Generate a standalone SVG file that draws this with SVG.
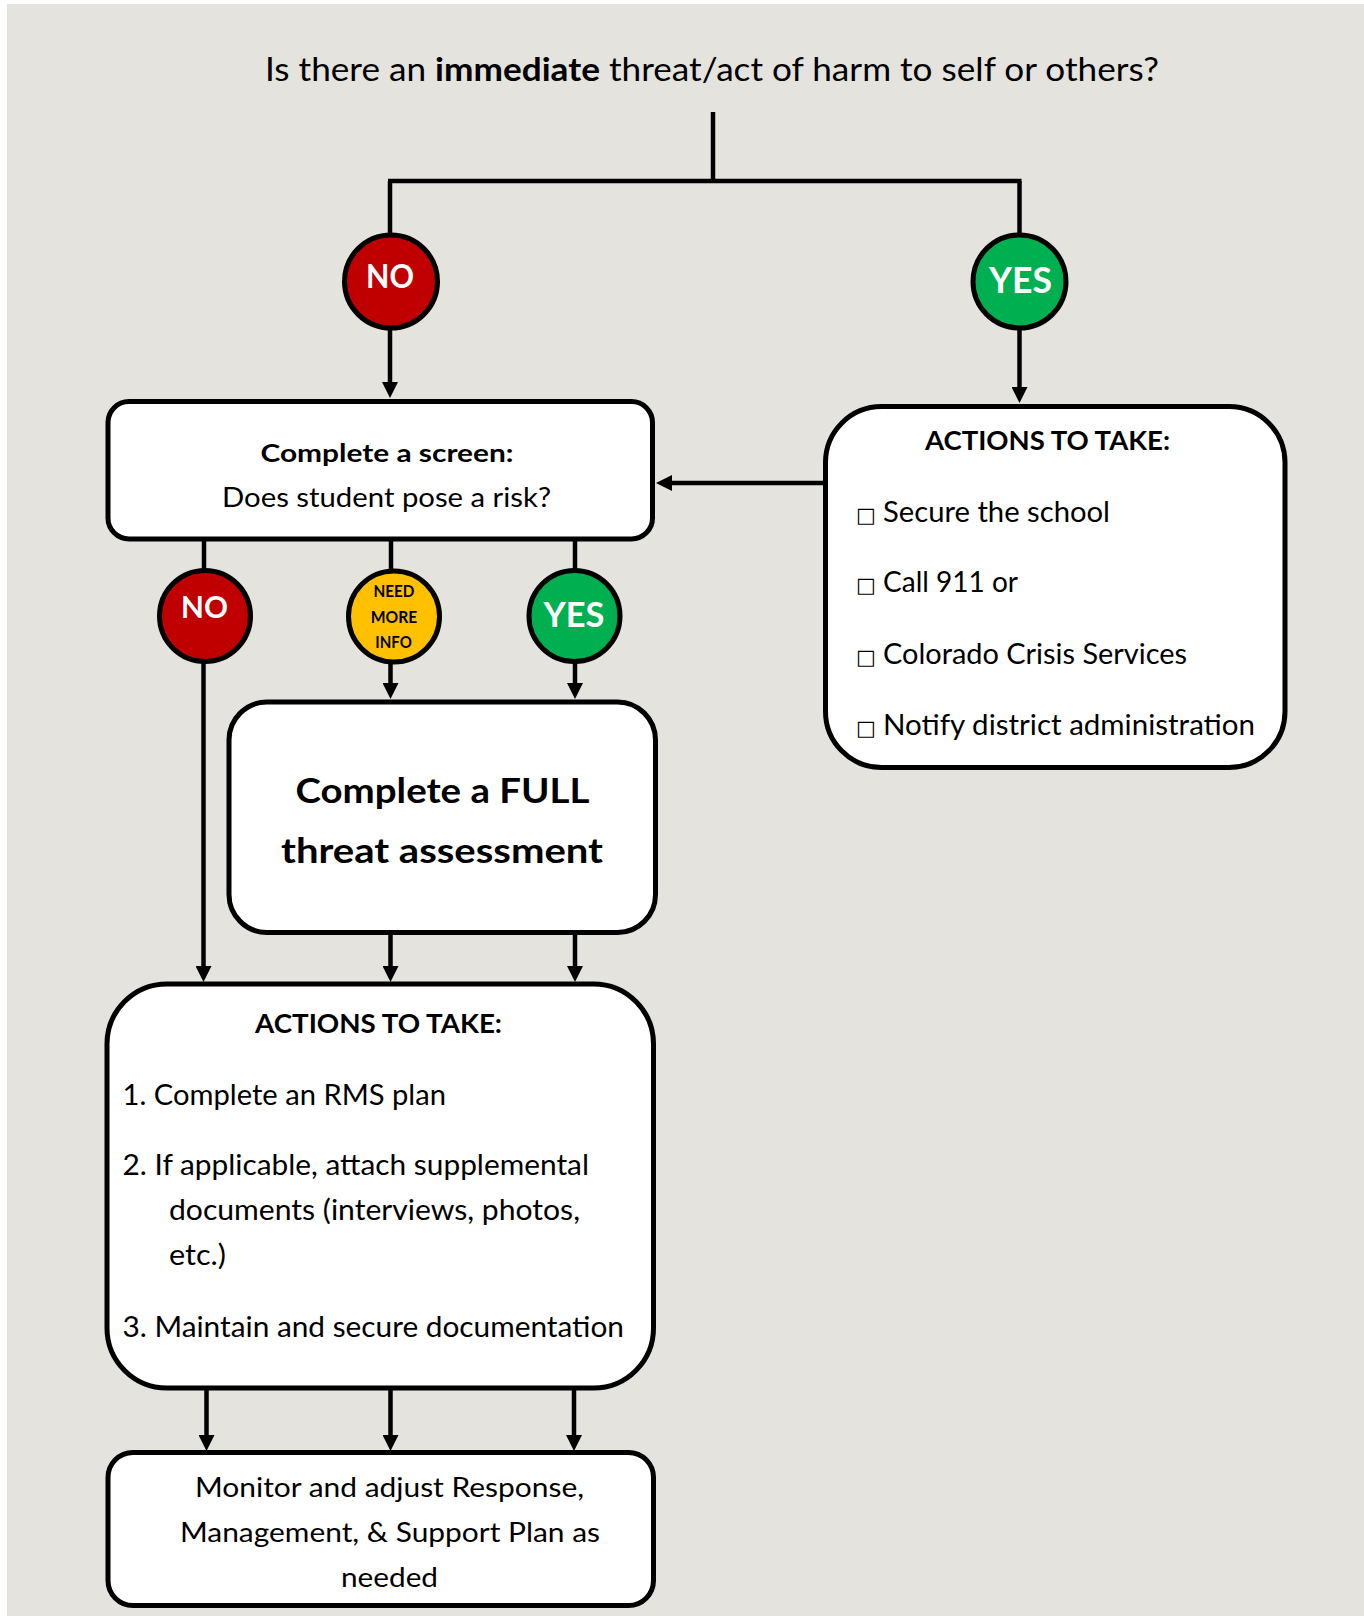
<svg xmlns="http://www.w3.org/2000/svg" width="1364" height="1616" viewBox="0 0 1364 1616">
<defs>
<style>
.t{font-family:Lato,"Open Sans","Liberation Sans",sans-serif;fill:#000}
.b{font-weight:bold}
.w{fill:#fff}
.box{fill:#fff;stroke:#000;stroke-width:5}
.dot{stroke:#000;stroke-width:5}
.ln{stroke:#000;stroke-width:4.5;fill:none}
.arr{stroke:#000;stroke-width:4.5;fill:none;marker-end:url(#ah)}
.sq{font-family:"DejaVu Sans",sans-serif;fill:#000}
</style>
<marker id="ah" markerUnits="userSpaceOnUse" markerWidth="16" markerHeight="16" refX="5" refY="8" orient="auto" viewBox="0 0 16 16">
<path d="M0,0 L16,8 L0,16 Z" fill="#000"/>
</marker>
</defs>
<rect x="0" y="0" width="1364" height="1616" fill="#fff"/>
<rect x="7" y="4" width="1357" height="1612" fill="#E4E3DE"/>

<g id="connectors">
<line class="ln" x1="713" y1="112" x2="713" y2="181"/>
<line class="ln" x1="388" y1="181" x2="1021.5" y2="181"/>
<line class="ln" x1="390" y1="181" x2="390" y2="236"/>
<line class="ln" x1="1019.5" y1="181" x2="1019.5" y2="236"/>
<line class="arr" x1="390" y1="328" x2="390" y2="387"/>
<line class="arr" x1="1019.5" y1="328" x2="1019.5" y2="392"/>
<line class="arr" x1="824" y1="483" x2="667" y2="483"/>
<line class="ln" x1="204" y1="540" x2="204" y2="572"/>
<line class="ln" x1="391" y1="540" x2="391" y2="572"/>
<line class="ln" x1="575" y1="540" x2="575" y2="572"/>
<line class="arr" x1="203.5" y1="660" x2="203.5" y2="971"/>
<line class="arr" x1="390.5" y1="660" x2="390.5" y2="688"/>
<line class="arr" x1="575" y1="660" x2="575" y2="688"/>
<line class="arr" x1="390.5" y1="933" x2="390.5" y2="971"/>
<line class="arr" x1="575" y1="933" x2="575" y2="971"/>
<line class="arr" x1="206.5" y1="1389" x2="206.5" y2="1440"/>
<line class="arr" x1="390.5" y1="1389" x2="390.5" y2="1440"/>
<line class="arr" x1="574" y1="1389" x2="574" y2="1440"/>
</g>

<g id="question">
<text class="t" x="712" y="81" font-size="32" text-anchor="middle" textLength="894" lengthAdjust="spacingAndGlyphs">Is there an <tspan class="b">immediate</tspan> threat/act of harm to self or others?</text>
</g>

<g id="no-top">
<circle class="dot" cx="391" cy="281.5" r="46.5" fill="#C00000"/>
<text class="t b w" x="390" y="288" font-size="32" text-anchor="middle" textLength="48" lengthAdjust="spacingAndGlyphs">NO</text>
</g>

<g id="yes-top">
<circle class="dot" cx="1019.5" cy="281.5" r="46.5" fill="#00B050"/>
<text class="t b w" x="1020.5" y="293" font-size="36" text-anchor="middle" textLength="63" lengthAdjust="spacingAndGlyphs">YES</text>
</g>

<g id="screen">
<rect class="box" x="108" y="401.5" width="544.5" height="137.5" rx="21"/>
<text class="t b" x="387" y="462" font-size="25.5" text-anchor="middle" textLength="253" lengthAdjust="spacingAndGlyphs">Complete a screen:</text>
<text class="t" x="386.5" y="507" font-size="26" text-anchor="middle" textLength="329" lengthAdjust="spacingAndGlyphs">Does student pose a risk?</text>
</g>

<g id="actions-immediate">
<rect class="box" x="825.5" y="406.5" width="459.5" height="361" rx="56"/>
<text class="t b" x="1047.5" y="450" font-size="27" text-anchor="middle" textLength="245" lengthAdjust="spacingAndGlyphs">ACTIONS TO TAKE:</text>
<text class="sq" x="856" y="522" font-size="21">□</text>
<text class="t" x="883" y="522" font-size="28" textLength="227" lengthAdjust="spacingAndGlyphs">Secure the school</text>
<text class="sq" x="856" y="592" font-size="21">□</text>
<text class="t" x="883" y="592" font-size="28" textLength="135" lengthAdjust="spacingAndGlyphs">Call 911 or</text>
<text class="sq" x="856" y="664" font-size="21">□</text>
<text class="t" x="883" y="664" font-size="28" textLength="304" lengthAdjust="spacingAndGlyphs">Colorado Crisis Services</text>
<text class="sq" x="856" y="735" font-size="21">□</text>
<text class="t" x="883" y="735" font-size="28" textLength="372" lengthAdjust="spacingAndGlyphs">Notify district administration</text>
</g>

<g id="no-screen">
<circle class="dot" cx="205" cy="616" r="45.5" fill="#C00000"/>
<text class="t b w" x="204.5" y="618" font-size="30" text-anchor="middle" textLength="47" lengthAdjust="spacingAndGlyphs">NO</text>
</g>

<g id="need-more-info">
<circle class="dot" cx="394" cy="616.5" r="45.5" fill="#FFC000"/>
<text class="t b" x="394" y="597" font-size="17.5" text-anchor="middle" textLength="41" lengthAdjust="spacingAndGlyphs">NEED</text>
<text class="t b" x="394" y="623" font-size="17.5" text-anchor="middle" textLength="46.5" lengthAdjust="spacingAndGlyphs">MORE</text>
<text class="t b" x="393.5" y="648" font-size="17.5" text-anchor="middle" textLength="36.5" lengthAdjust="spacingAndGlyphs">INFO</text>
</g>

<g id="yes-screen">
<circle class="dot" cx="574.5" cy="616" r="45.5" fill="#00B050"/>
<text class="t b w" x="574" y="626.5" font-size="35" text-anchor="middle" textLength="61" lengthAdjust="spacingAndGlyphs">YES</text>
</g>

<g id="full-assessment">
<rect class="box" x="229" y="702" width="426.5" height="230.5" rx="38"/>
<text class="t b" x="442.5" y="803" font-size="35" text-anchor="middle" textLength="294" lengthAdjust="spacingAndGlyphs">Complete a FULL</text>
<text class="t b" x="442" y="863" font-size="35" text-anchor="middle" textLength="322" lengthAdjust="spacingAndGlyphs">threat assessment</text>
</g>

<g id="actions-plan">
<rect class="box" x="107" y="984" width="546.5" height="404" rx="60"/>
<text class="t b" x="378.5" y="1033" font-size="27" text-anchor="middle" textLength="247" lengthAdjust="spacingAndGlyphs">ACTIONS TO TAKE:</text>
<text class="t" x="122.5" y="1105" font-size="28" textLength="323.5" lengthAdjust="spacingAndGlyphs">1. Complete an RMS plan</text>
<text class="t" x="122.5" y="1175" font-size="28" textLength="466.5" lengthAdjust="spacingAndGlyphs">2. If applicable, attach supplemental</text>
<text class="t" x="169" y="1220" font-size="28" textLength="411" lengthAdjust="spacingAndGlyphs">documents (interviews, photos,</text>
<text class="t" x="169" y="1265" font-size="28" textLength="57" lengthAdjust="spacingAndGlyphs">etc.)</text>
<text class="t" x="122.5" y="1337" font-size="28" textLength="501.5" lengthAdjust="spacingAndGlyphs">3. Maintain and secure documentation</text>
</g>

<g id="monitor">
<rect class="box" x="108" y="1452.5" width="545.5" height="153" rx="25"/>
<text class="t" x="389.5" y="1497" font-size="26" text-anchor="middle" textLength="389" lengthAdjust="spacingAndGlyphs">Monitor and adjust Response,</text>
<text class="t" x="390" y="1542" font-size="26" text-anchor="middle" textLength="420" lengthAdjust="spacingAndGlyphs">Management, &amp; Support Plan as</text>
<text class="t" x="389.5" y="1587" font-size="26" text-anchor="middle" textLength="97" lengthAdjust="spacingAndGlyphs">needed</text>
</g>
</svg>
